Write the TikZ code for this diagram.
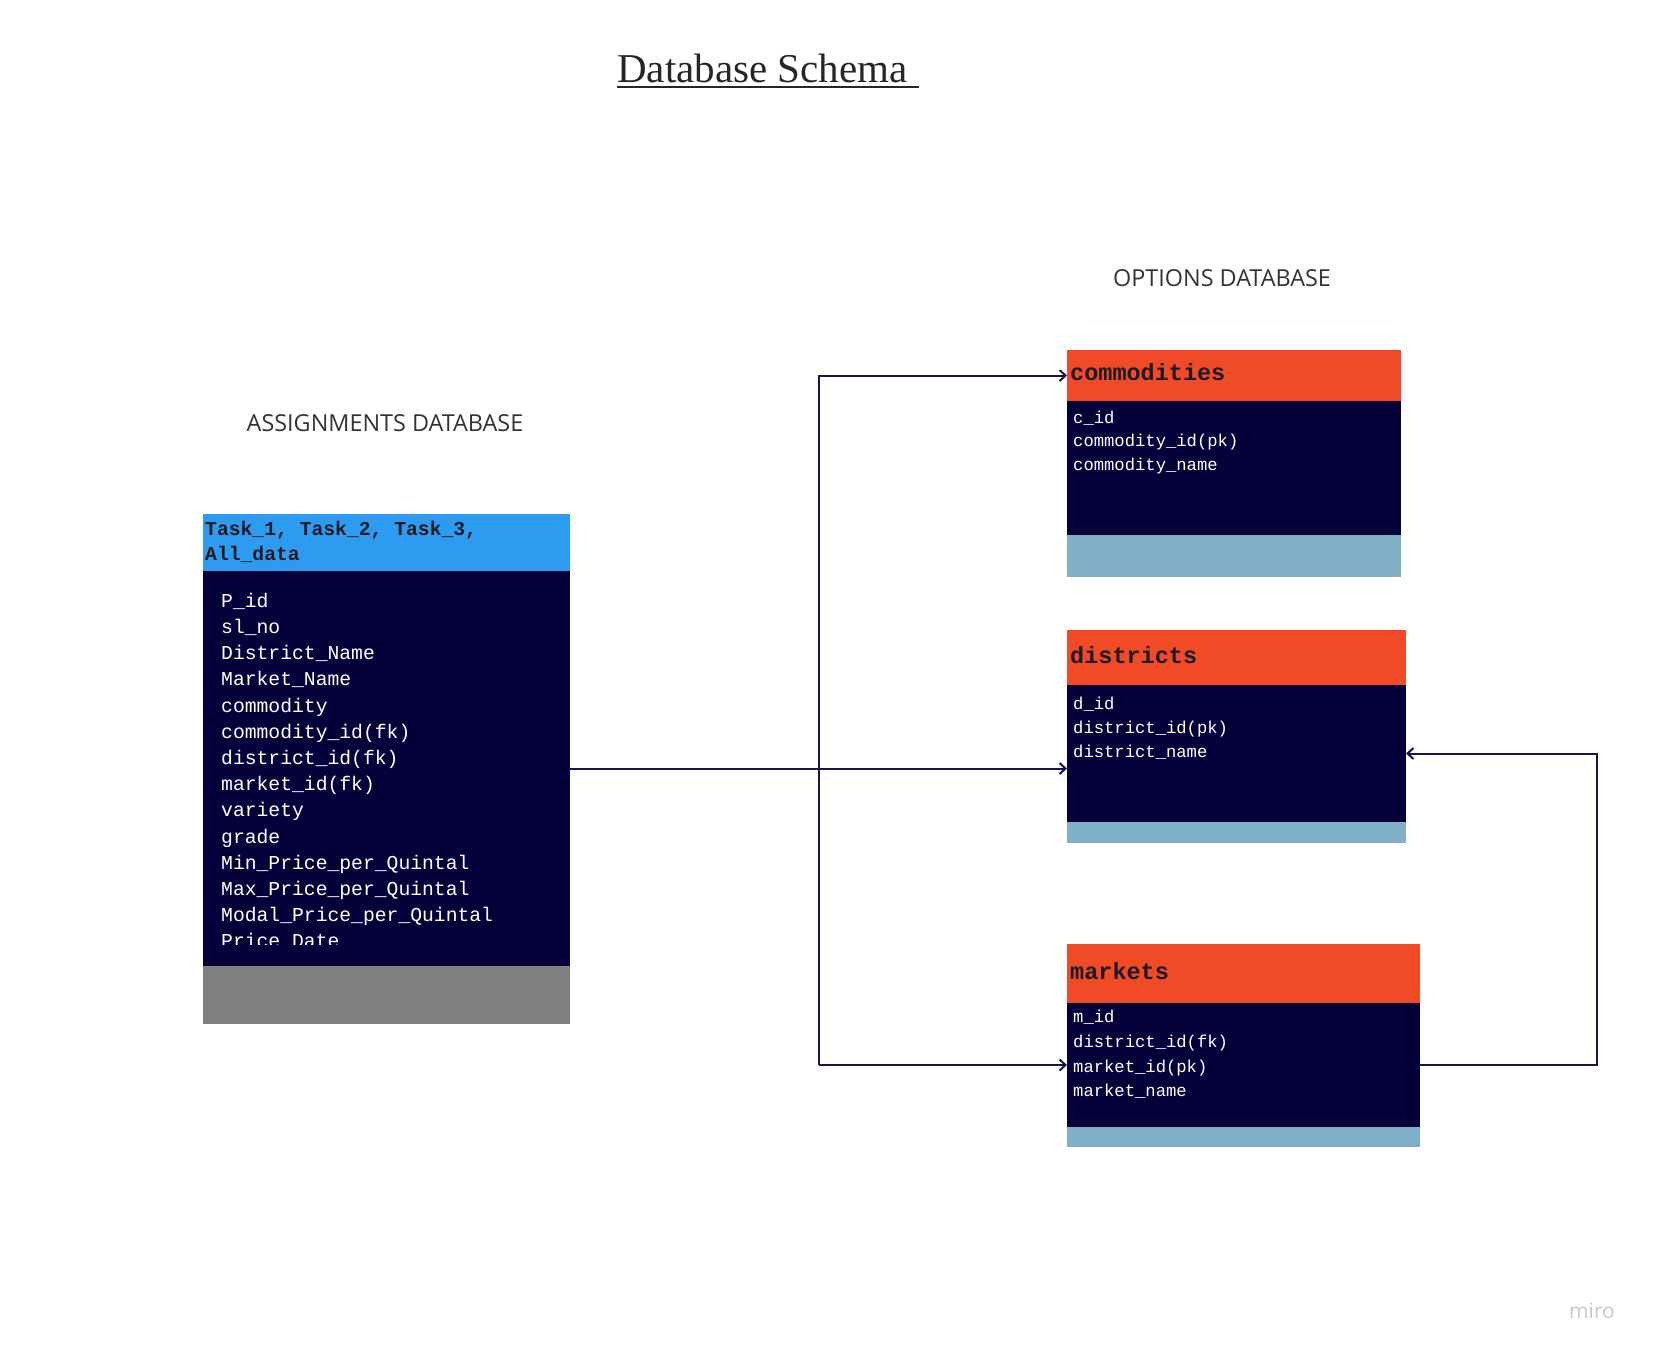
\documentclass[tikz,border=0pt]{standalone}
\usepackage{fontspec}
\setmainfont{Liberation Serif}
\newfontfamily\monofont{Liberation Mono}
\newfontfamily\labelfont{Open Sans}
\usetikzlibrary{positioning,arrows.meta}

\definecolor{headblue}{HTML}{2D9BF0}
\definecolor{bodynavy}{HTML}{03003A}
\definecolor{footgray}{HTML}{808080}
\definecolor{headorange}{HTML}{F04A26}
\definecolor{footblue}{HTML}{7FB0C6}
\definecolor{linknavy}{HTML}{16144C}
\definecolor{inkdark}{HTML}{1E1A24}

\newcommand\bigfield{\monofont\fontsize{19.7}{24}\selectfont}
\newcommand\smallfield{\monofont\fontsize{17.2}{21}\selectfont}
\newcommand\tabletitle{\monofont\bfseries\fontsize{23.5}{28}\selectfont}

\tikzset{
  box/.style={anchor=north west, inner sep=0pt, outer sep=0pt},
  field/.style={anchor=west, inner sep=0pt, text=white, text height=1.26em, text depth=0em},
  tname/.style={anchor=west, inner sep=0pt, text=inkdark, font=\tabletitle, text height=1.26em, text depth=0em},
  dblabel/.style={inner sep=0pt, text=black!80, font=\labelfont\fontsize{23.4}{28}\selectfont},
  link/.style={linknavy, line width=2pt, >={Straight Barb[length=6pt,width=11pt]}},
}

\begin{document}
\begin{tikzpicture}[x=1pt,y=-1pt]
    \useasboundingbox (0,0) rectangle (1656,1358);
    % title
    \node[anchor=base west, inner sep=0pt, text=black!85, font=\fontsize{41}{49}\selectfont] (title) at (617,82.5) {Database Schema};
    \draw[line width=2.5pt, black!85] ([yshift=-4.5pt]title.base west) -- ([xshift=11pt,yshift=-4.5pt]title.base east);
    \node[dblabel] (assignlbl) at (385,423.5) {ASSIGNMENTS DATABASE};
    \node[dblabel] (optionslbl) at (1222,278) {OPTIONS DATABASE};

    % assignments table
    \node[box, fill=headblue, minimum width=367pt, minimum height=57pt] (taskhead) at (203,514) {};
    \node[box, fill=bodynavy, minimum width=367pt, minimum height=395pt] (taskbody) at (203,571) {};
    \node[box, fill=footgray, minimum width=367pt, minimum height=58pt] (taskfoot) at (203,966) {};
    \node[field, text=inkdark, font=\bigfield\bfseries] (tasktitle1) at (205,529) {Task\_1, Task\_2, Task\_3,};
    \node[field, text=inkdark, font=\bigfield\bfseries] (tasktitle2) at (205,554) {All\_data};
    \begin{scope}
      \clip (203,571) rectangle (570,944);
      \foreach \f [count=\i from 0] in {P\_id, sl\_no, District\_Name, Market\_Name, commodity,
          commodity\_id(fk), district\_id(fk), market\_id(fk), variety, grade,
          Min\_Price\_per\_Quintal, Max\_Price\_per\_Quintal, Modal\_Price\_per\_Quintal, Price\_Date}
        \node[field, font=\bigfield] (tf\i) at (221,{601+26.2*\i}) {\f};
    \end{scope}

    % commodities
    \node[box, fill=headorange, minimum width=334pt, minimum height=51pt] (comhead) at (1067,350) {};
    \node[box, fill=bodynavy, minimum width=334pt, minimum height=134pt] (combody) at (1067,401) {};
    \node[box, fill=footblue, minimum width=334pt, minimum height=42pt] (comfoot) at (1067,535) {};
    \node[tname] (comtitle) at (1070,374) {commodities};
    \node[field, font=\smallfield] (cf1) at (1073,417) {c\_id};
    \node[field, font=\smallfield] (cf2) at (1073,440) {commodity\_id(pk)};
    \node[field, font=\smallfield] (cf3) at (1073,464) {commodity\_name};

    % districts
    \node[box, fill=headorange, minimum width=339pt, minimum height=55pt] (disthead) at (1067,630) {};
    \node[box, fill=bodynavy, minimum width=339pt, minimum height=137pt] (distbody) at (1067,685) {};
    \node[box, fill=footblue, minimum width=339pt, minimum height=21pt] (distfoot) at (1067,822) {};
    \node[tname] (disttitle) at (1070,657) {districts};
    \node[field, font=\smallfield] (df1) at (1073,703) {d\_id};
    \node[field, font=\smallfield] (df2) at (1073,727) {district\_id(pk)};
    \node[field, font=\smallfield] (df3) at (1073,751) {district\_name};

    % markets
    \node[box, fill=headorange, minimum width=353pt, minimum height=59pt] (mkthead) at (1067,944) {};
    \node[box, fill=bodynavy, minimum width=353pt, minimum height=124pt] (mktbody) at (1067,1003) {};
    \node[box, fill=footblue, minimum width=353pt, minimum height=20pt] (mktfoot) at (1067,1127) {};
    \node[tname] (mkttitle) at (1070,973) {markets};
    \node[field, font=\smallfield] (mf1) at (1073,1016) {m\_id};
    \node[field, font=\smallfield] (mf2) at (1073,1041) {district\_id(fk)};
    \node[field, font=\smallfield] (mf3) at (1073,1066) {market\_id(pk)};
    \node[field, font=\smallfield] (mf4) at (1073,1090) {market\_name};

    % links
    \coordinate (trunk) at (818.5,0);
    \coordinate (loop) at (1597,0);
    \draw[link,->] (taskbody.east) -- (taskbody.east -| distbody.west);
    \draw[link,->] (trunk |- mktbody.west) |- (comhead.west);
    \draw[link,->] (trunk |- mktbody.west) -- (mktbody.west);
    \draw[link,->] (mktbody.east) -- (mktbody.east -| loop) |- (distbody.east);

    \node[inner sep=0pt, text=black!22, font=\labelfont\fontsize{21}{25}\selectfont] (miro) at (1592,1311) {miro};
\end{tikzpicture}
\end{document}
